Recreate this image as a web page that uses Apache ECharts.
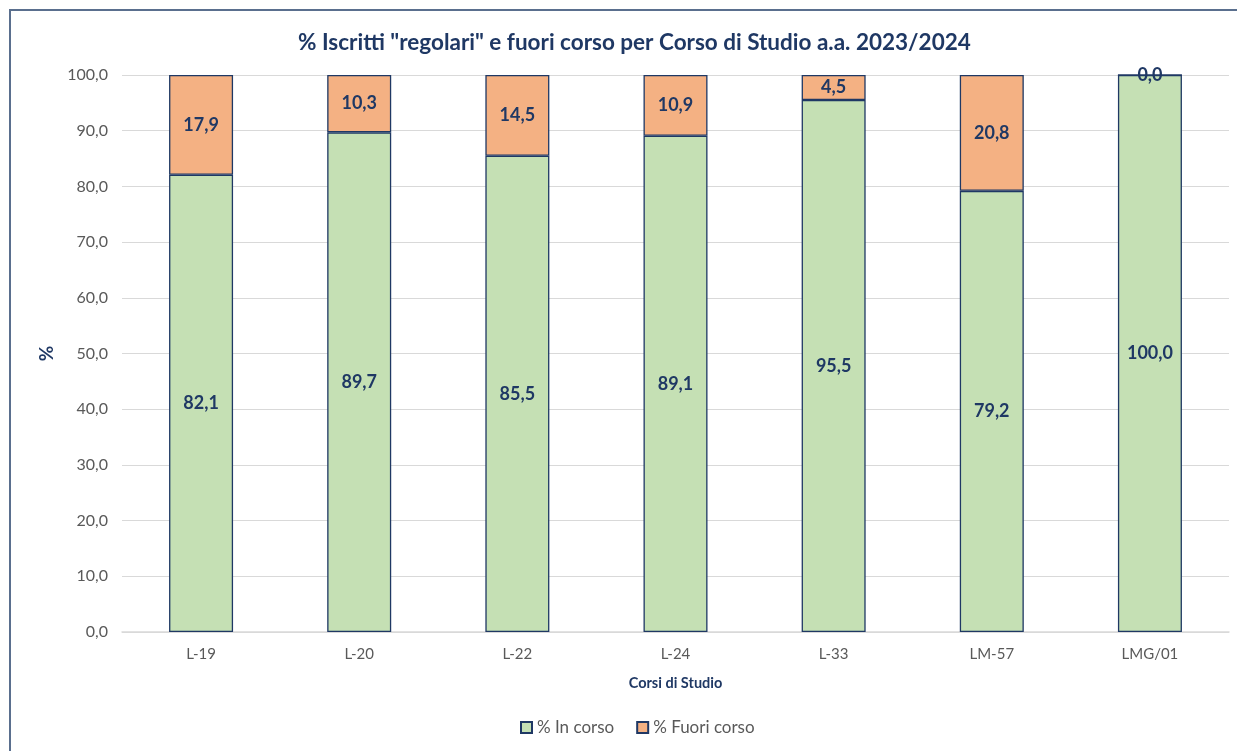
<!DOCTYPE html>
<html><head><meta charset="utf-8">
<script src="https://cdn.jsdelivr.net/npm/echarts@6/dist/echarts.min.js"></script>
<style>
html,body{margin:0;padding:0;background:#fff;overflow:hidden;}
#frame{position:absolute;left:9px;top:9px;width:1240px;height:760px;border:2px solid #5a6f8e;box-sizing:border-box;}
#c{position:absolute;left:0;top:0;width:1237px;height:751px;}
</style></head>
<body><div id="frame"></div><div id="c"></div>
<script>
const categories = ['L-19','L-20','L-22','L-24','L-33','LM-57','LMG/01'];
const inCorso = [82.1, 89.7, 85.5, 89.1, 95.5, 79.2, 100.0];
const fuoriCorso = [17.9, 10.3, 14.5, 10.9, 4.5, 20.8, 0.0];
const seriesNames = ['% In corso', '% Fuori corso'];
const titleText = '% Iscritti "regolari" e fuori corso per Corso di Studio a.a. 2023/2024';

const fmt = v => Number(v).toFixed(1).replace('.', ',');
const navy = '#1F3864';
const font = 'Lato, "Open Sans", sans-serif';
const chart = echarts.init(document.getElementById('c'));
const labelCfg = {show:true, position:'inside', color:navy, fontWeight:'bold', fontSize:18, fontFamily:font,
  formatter:p => fmt(p.value)};
chart.setOption({
  animation:false,
  textStyle:{fontFamily:font},
  title:{text:titleText, left:293, top:26, textStyle:{color:navy, fontSize:22.5, fontWeight:'bold', fontFamily:font}},
  legend:{bottom:10, left:515, icon:'rect', itemWidth:11, itemHeight:11, itemGap:22,
    textStyle:{color:'#595959', fontSize:17, fontFamily:font}, data:seriesNames},
  grid:{left:122, right:8, top:75, bottom:119},
  xAxis:{type:'category', data:categories, name:'Corsi di Studio', nameLocation:'middle', nameGap:44,
    nameTextStyle:{color:navy, fontWeight:'bold', fontSize:14.5, fontFamily:font},
    axisLine:{lineStyle:{color:'#d9d9d9', width:1.5}}, axisTick:{show:false},
    axisLabel:{color:'#595959', fontSize:15, margin:15, fontFamily:font}},
  yAxis:{type:'value', min:0, max:100, interval:10, name:'%', nameLocation:'middle', nameGap:66,
    nameTextStyle:{color:navy, fontWeight:'bold', fontSize:19, fontFamily:font},
    axisLine:{show:false}, axisTick:{show:false},
    axisLabel:{color:'#595959', fontSize:16, margin:14, formatter:v => fmt(v), fontFamily:font},
    splitLine:{lineStyle:{color:'#d9d9d9', width:1.2}}},
  series:[
    {name:seriesNames[0], type:'bar', stack:'t', data:inCorso, barWidth:64,
      itemStyle:{color:'#C5E0B4', borderColor:navy, borderWidth:1.3}, label:labelCfg},
    {name:seriesNames[1], type:'bar', stack:'t', data:fuoriCorso, barWidth:64,
      itemStyle:{color:'#F4B183', borderColor:navy, borderWidth:1.3}, label:labelCfg}
  ]
});
</script></body></html>
